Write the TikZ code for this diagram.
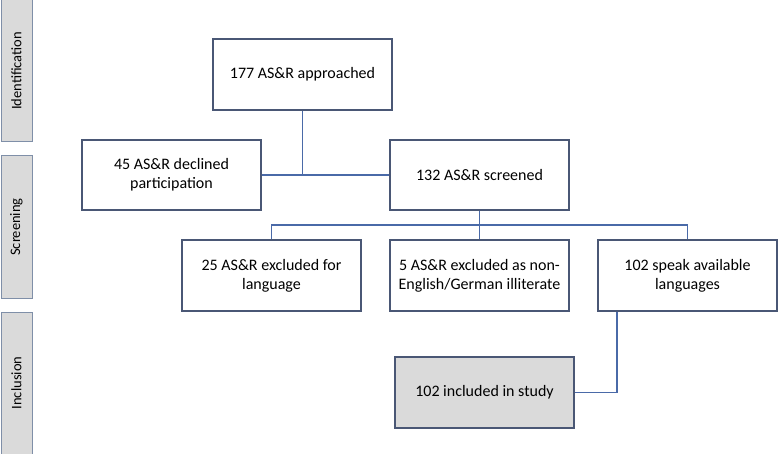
\documentclass[tikz,border=0pt]{standalone}
\usepackage{fontspec}
\setmainfont{Carlito}
\definecolor{boxline}{HTML}{4A5775}
\definecolor{conn}{HTML}{4A6AA8}
\definecolor{sidefill}{HTML}{DADADA}
\definecolor{sideline}{HTML}{7F8FA8}
\begin{document}
\begin{tikzpicture}[x=1pt,y=-1pt,
  flowbox/.style={draw=boxline,line width=1.1pt,fill=white,align=center,font=\fontsize{16}{19}\selectfont},
  sidebox/.style={draw=sideline,line width=1pt,fill=sidefill},
  sidelabel/.style={rotate=90,font=\fontsize{14.5}{17}\selectfont},
  link/.style={draw=conn,line width=1.1pt}]
\useasboundingbox (0,0) rectangle (778,454);
% side panels
\draw[sidebox] (1,0) rectangle (32,142);
\node[sidelabel] (ident) at (16.5,71) {Identification};
\draw[sidebox] (1,156) rectangle (32,298);
\node[sidelabel] (screen) at (16.5,227) {Screening};
\draw[sidebox] (1,312) rectangle (32,455);
\node[sidelabel] (incl) at (16.5,383) {Inclusion};
% boxes
\node[flowbox,minimum width=179pt,minimum height=71pt] (appr) at (302.5,74.5) {177 AS\&R approached};
\node[flowbox,minimum width=179pt,minimum height=70pt] (decl) at (171.5,175) {45 AS\&R declined\\participation};
\node[flowbox,minimum width=179pt,minimum height=70pt] (scr) at (479.5,175) {132 AS\&R screened};
\node[flowbox,minimum width=179pt,minimum height=71pt] (lang) at (271.5,275.5) {25 AS\&R excluded for\\language};
\node[flowbox,minimum width=179pt,minimum height=71pt] (illit) at (479.5,275.5) {5 AS\&R excluded as non-\\English/German illiterate};
\node[flowbox,minimum width=179pt,minimum height=71pt] (speak) at (687.5,275.5) {102 speak available\\languages};
\node[flowbox,fill=sidefill,minimum width=179pt,minimum height=71pt] (inc) at (484.5,392.5) {102 included in study};
% connectors
\coordinate (j1) at (302.5,175);
\draw[link] (appr.south) -- (j1);
\draw[link] (decl.east) -- (scr.west);
\coordinate (j2) at (scr.south |- 0,225);
\draw[link] (scr.south) -- (j2);
\draw[link] (lang.north) |- (j2);
\draw[link] (illit.north) -- (j2);
\draw[link] (speak.north) |- (j2);
\coordinate (j3) at (617,311);
\draw[link] (j3 |- speak.south) |- (inc.east);
\end{tikzpicture}
\end{document}
